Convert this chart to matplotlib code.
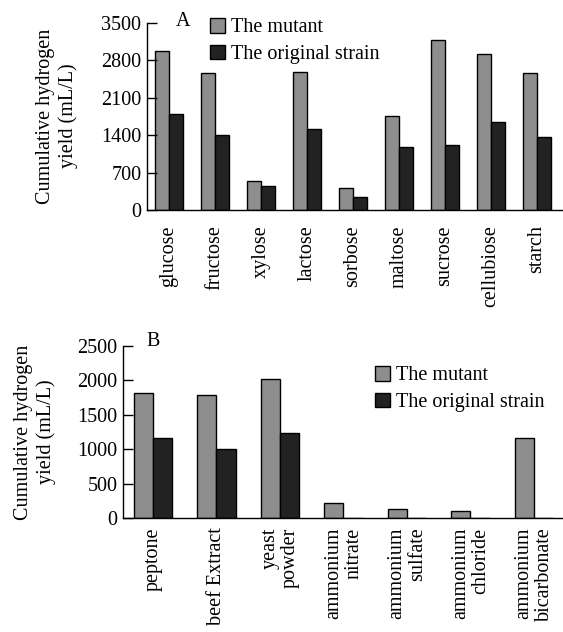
import matplotlib.pyplot as plt
import numpy as np
from matplotlib.patches import Patch

plt.rcParams['font.family'] = ['Liberation Serif', 'DejaVu Serif']
plt.rcParams['font.size'] = 14

# panel A: carbon sources
carbon = ['glucose', 'fructose', 'xylose', 'lactose', 'sorbose',
          'maltose', 'sucrose', 'cellubiose', 'starch']
carbon_mutant = [2980, 2560, 540, 2590, 420, 1760, 3190, 2920, 2560]
carbon_original = [1790, 1400, 450, 1520, 240, 1180, 1210, 1640, 1370]

# panel B: nitrogen sources
nitrogen = ['peptone', 'beef Extract', 'yeast\npowder', 'ammonium\nnitrate',
            'ammonium\nsulfate', 'ammonium\nchloride', 'ammonium\nbicarbonate']
nitrogen_mutant = [1815, 1787, 2024, 221, 125, 101, 1169]
nitrogen_original = [1170, 1005, 1240, 0, 0, 0, 0]

c_mut = '#8e8e8e'
c_org = '#222222'
W, H = 563, 632

fig = plt.figure(figsize=(W / 100, H / 100), dpi=100)


def panel(rect, names, mut, org, xlim, yticks, pad):
    ax = fig.add_axes(rect)
    x = np.arange(len(names))
    w = 0.30
    ax.bar(x - w / 2, mut, w, color=c_mut, edgecolor='black', linewidth=1.0)
    ax.bar(x + w / 2, org, w, color=c_org, edgecolor='black', linewidth=1.0)
    ax.set_xlim(*xlim)
    ax.set_ylim(0, yticks[-1])
    ax.set_yticks(yticks)
    ax.set_xticks(x)
    ax.set_xticklabels(names, rotation=90, va='top', ha='center',
                       multialignment='right', linespacing=1.1)
    ax.tick_params(axis='x', length=0, pad=pad, labelsize=14.5)
    ax.tick_params(axis='y', direction='in', length=7, width=1, pad=4,
                   labelsize=14.5)
    for s in ['top', 'right']:
        ax.spines[s].set_visible(False)
    for s in ['left', 'bottom']:
        ax.spines[s].set_linewidth(1.0)
    return ax


axA = panel([147 / W, 1 - 210 / H, (W - 147) / W, 187 / H],
            carbon, carbon_mutant, carbon_original, (-0.478, 8.565),
            [0, 700, 1400, 2100, 2800, 3500], 11)
axB = panel([123 / W, 1 - 518 / H, (W - 123) / W, 172 / H],
            nitrogen, nitrogen_mutant, nitrogen_original, (-0.472, 6.457),
            [0, 500, 1000, 1500, 2000, 2500], 7)

handles = [Patch(facecolor=c_mut, edgecolor='black', label='The mutant'),
           Patch(facecolor=c_org, edgecolor='black', label='The original strain')]
for pos in [(200 / W, 1 - 8 / H), (365 / W, 1 - 356 / H)]:
    fig.legend(handles=handles, loc='upper left', bbox_to_anchor=pos,
               bbox_transform=fig.transFigure, frameon=False, borderpad=0,
               handlelength=0.75, handleheight=0.75, handletextpad=0.3,
               labelspacing=0.35, fontsize=14.5)

fig.text(183 / W, 1 - 22 / H, 'A', ha='center', va='center', fontsize=14.5)
fig.text(153 / W, 1 - 341 / H, 'B', ha='center', va='center', fontsize=14.5)

ylab = 'Cumulative hydrogen\nyield (mL/L)'
fig.text(57 / W, 1 - 116 / H, ylab, rotation=90, ha='center', va='center',
         multialignment='center', fontsize=14.5, linespacing=1.2)
fig.text(35 / W, 1 - 432 / H, ylab, rotation=90, ha='center', va='center',
         multialignment='center', fontsize=14.5, linespacing=1.2)

fig.savefig('out.png', dpi=100)
